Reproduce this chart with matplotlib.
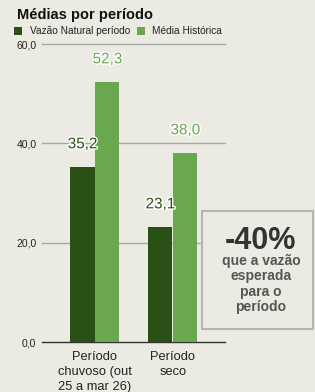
import matplotlib
matplotlib.use("Agg")
import matplotlib.pyplot as plt
import matplotlib.patheffects as pe
from matplotlib.patches import Rectangle
import numpy as np

plt.rcParams['font.family'] = ['Liberation Sans', 'DejaVu Sans']

categorias = ["Período\nchuvoso (out\n25 a mar 26)", "Período\nseco"]
vazao_natural = [35.2, 23.1]
media_historica = [52.3, 38.0]
series_nomes = ["Vazão Natural período", "Média Histórica"]
yticks = [0, 20, 40, 60]

bg = "#ebebe3"
verde_escuro = "#2a5016"
verde_claro = "#6aa84f"

fig = plt.figure(figsize=(3.15, 3.92), dpi=100, facecolor=bg)
ax = fig.add_axes([42/315, 1-342/392, 183/315, 298/392], facecolor=bg)

x = np.arange(len(categorias))
w = 0.31
off = 0.16
b1 = ax.bar(x - off, vazao_natural, w, color=verde_escuro, zorder=3)
b2 = ax.bar(x + off, media_historica, w, color=verde_claro, zorder=3)

fmt = lambda v: f"{v:.1f}".replace(".", ",")
for bars, vals, c in [(b1, vazao_natural, verde_escuro), (b2, media_historica, verde_claro)]:
	for b, v in zip(bars, vals):
		ax.annotate(fmt(v), (b.get_x() + b.get_width()/2, v), xytext=(0, 16.5),
			textcoords="offset points", ha="center", va="center", fontsize=11,
			color=c, zorder=5,
			path_effects=[pe.withStroke(linewidth=2, foreground="white")])

ax.set_xlim(-0.68, 1.67)
ax.set_ylim(0, 60)
ax.set_yticks(yticks)
ax.set_yticklabels([fmt(t) for t in yticks], fontsize=7.5, color="#222222")
for t in yticks:
	ax.axhline(t, color="#333333" if t == 0 else "#a8a8a8", lw=1, zorder=1, clip_on=False)
ax.tick_params(axis="y", length=0, pad=4)
ax.tick_params(axis="x", length=0, pad=6.5)
ax.set_xticks(x)
ax.set_xticklabels(categorias, fontsize=9.3, color="#222222", linespacing=1.35)
for s in ax.spines.values():
	s.set_visible(False)

# titulo e legenda
fig.text(17/315, 1-15/392, "Médias por período", fontsize=10.5, fontweight="bold",
	color="#111111", va="center", ha="left")
fig.patches.append(Rectangle((14/315, 1-35/392), 8/315, 8/392, transform=fig.transFigure,
	facecolor=verde_escuro, edgecolor="none"))
fig.text(30/315, 1-31/392, series_nomes[0], fontsize=7.3, color="#222222", va="center")
fig.patches.append(Rectangle((137/315, 1-35/392), 8/315, 8/392, transform=fig.transFigure,
	facecolor=verde_claro, edgecolor="none"))
fig.text(152/315, 1-31/392, series_nomes[1], fontsize=7.3, color="#222222", va="center")

# caixa -40%
caixa = Rectangle((202/315, 1-329/392), 111/315, 118/392, transform=fig.transFigure,
	facecolor=bg, edgecolor="#b5b5b5", lw=1.5, zorder=10)
fig.patches.append(caixa)
fig.text(260/315, 1-241/392, "-40%", fontsize=22, fontweight="bold", color="#333333",
	ha="center", va="center", zorder=11)
fig.text(261/315, 1-284/392, "que a vazão\nesperada\npara o\nperíodo", fontsize=10,
	fontweight="bold", color="#555555", ha="center", va="center", linespacing=1.1, zorder=11)

fig.savefig("out.png", dpi=100, facecolor=bg)
